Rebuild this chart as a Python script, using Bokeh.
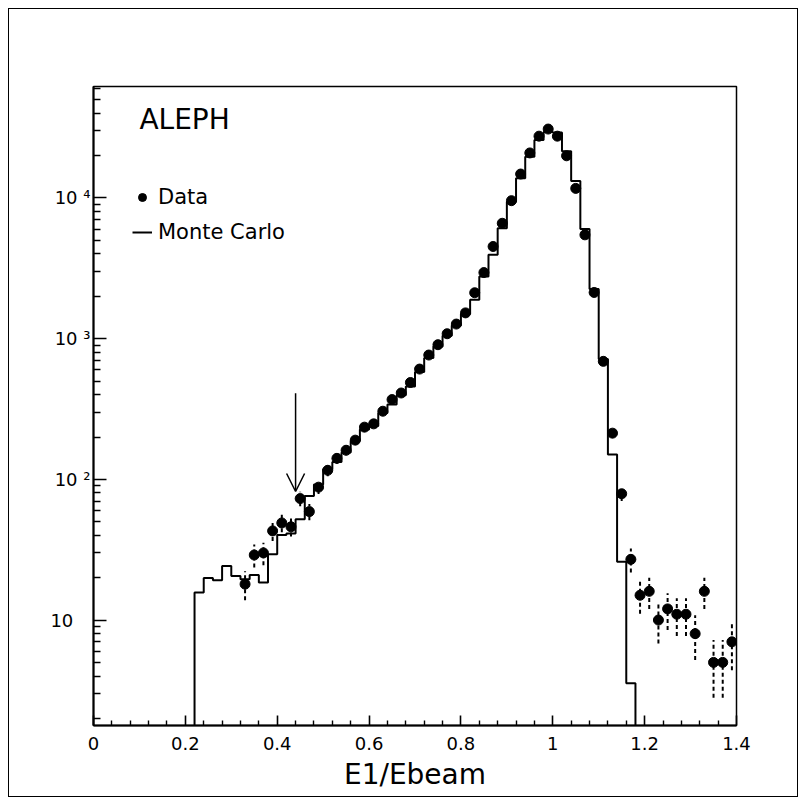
from bokeh.plotting import figure
from bokeh.models import (ColumnDataSource, FixedTicker, Arrow, OpenHead, Label,
                          Legend, LegendItem, Range1d)
from bokeh.embed import file_html
from bokeh.resources import INLINE

# ---------------- data ----------------
data_x = [0.33, 0.35, 0.37, 0.39, 0.41, 0.43, 0.45, 0.47, 0.49, 0.51,
          0.53, 0.55, 0.57, 0.59, 0.61, 0.63, 0.65, 0.67, 0.69, 0.71,
          0.73, 0.75, 0.77, 0.79, 0.81, 0.83, 0.85, 0.87, 0.89, 0.91,
          0.93, 0.95, 0.97, 0.99, 1.01, 1.03, 1.05, 1.07, 1.09, 1.11,
          1.13, 1.15, 1.17, 1.19, 1.21, 1.23, 1.25, 1.27, 1.29, 1.31,
          1.33, 1.35, 1.37, 1.39]
data_y = [18, 29, 30, 43, 49, 46, 73, 59, 88, 116,
          141, 161, 190, 235, 248, 305, 369, 411, 488, 608,
          765, 906, 1084, 1270, 1525, 2120, 2950, 4520, 6610, 9570,
          14800, 20900, 27500, 30900, 27500, 19950, 11700, 5470, 2130, 690,
          213, 79, 27, 15, 16, 10, 12, 11, 11, 8,
          16, 5, 5, 7]
data_err = [4.2, 5.4, 5.5, 6.6, 7.0, 6.8, 8.5, 7.7, 9.4, 10.8,
            11.9, 12.7, 13.8, 15.3, 15.7, 17.5, 19.2, 20.3, 22.1, 24.7,
            27.7, 30.1, 32.9, 35.6, 39.1, 46.0, 54.3, 67.2, 81.3, 97.8,
            121.7, 144.6, 165.8, 175.8, 165.8, 141.2, 108.2, 74.0, 46.2, 26.3,
            14.6, 8.9, 5.2, 3.9, 4.0, 3.2, 3.5, 3.3, 3.3, 2.8,
            4.0, 2.2, 2.2, 2.6]

mc_lo = [0.22, 0.24, 0.26, 0.28, 0.30, 0.32, 0.34, 0.36, 0.38, 0.40,
         0.42, 0.44, 0.46, 0.48, 0.50, 0.52, 0.54, 0.56, 0.58, 0.60,
         0.62, 0.64, 0.66, 0.68, 0.70, 0.72, 0.74, 0.76, 0.78, 0.80,
         0.82, 0.84, 0.86, 0.88, 0.90, 0.92, 0.94, 0.96, 0.98, 1.00,
         1.02, 1.04, 1.06, 1.08, 1.10, 1.12, 1.14, 1.16]
mc_y = [15.7, 19.9, 19.2, 24.2, 20.6, 19.5, 20.9, 18.5, 29.4, 40.3,
        41.2, 52, 76, 92, 118, 133, 155, 187, 226, 239,
        296, 340, 396, 457, 580, 730, 880, 1050, 1240, 1500,
        1893, 2770, 3945, 6100, 9420, 13800, 19600, 25800, 29500, 29200,
        21500, 13200, 6030, 2250, 716, 150, 26, 3.55]
bin_width = 0.02
mc_floor = 0.01

x_ticks = [0, 0.2, 0.4, 0.6, 0.8, 1, 1.2, 1.4]
x_tick_labels = ["0", "0.2", "0.4", "0.6", "0.8", "1", "1.2", "1.4"]
x_minor = [0.04, 0.08, 0.12, 0.16, 0.24, 0.28, 0.32, 0.36, 0.44, 0.48, 0.52, 0.56,
           0.64, 0.68, 0.72, 0.76, 0.84, 0.88, 0.92, 0.96, 1.04, 1.08, 1.12, 1.16,
           1.24, 1.28, 1.32, 1.36]
y_ticks = [10, 100, 1000, 10000]
y_tick_labels = ["10\u00a0\u00a0\u00a0", "10 \u00b2", "10 \u00b3", "10 \u2074"]
y_minor = [2, 3, 4, 5, 6, 7, 8, 9, 20, 30, 40, 50, 60, 70, 80, 90,
           200, 300, 400, 500, 600, 700, 800, 900,
           2000, 3000, 4000, 5000, 6000, 7000, 8000, 9000,
           20000, 30000, 40000, 50000, 60000]

arrow_x = 0.44
arrow_top = 410
arrow_tip = 82

FONT = "DejaVu Sans"

# ---------------- step path for MC ----------------
step_x = [mc_lo[0]]
step_y = [mc_floor]
for lo, v in zip(mc_lo, mc_y):
    step_x += [lo, lo + bin_width]
    step_y += [v, v]
step_x.append(mc_lo[-1] + bin_width)
step_y.append(mc_floor)

err_lo = [y - e for y, e in zip(data_y, data_err)]
err_hi = [y + e for y, e in zip(data_y, data_err)]

src = ColumnDataSource(dict(x=data_x, y=data_y, lo=err_lo, hi=err_hi))

p = figure(width=806, height=805, output_backend="svg", toolbar_location=None,
           y_axis_type="log", x_range=Range1d(0, 1.4), y_range=Range1d(1.78, 62000),
           min_border_left=93, min_border_right=70, min_border_top=86,
           min_border_bottom=80)
# transparent surround so the page frame drawn on the host element shows through
p.border_fill_alpha = 0
p.styles = {"outline": "1.5px solid black", "outline-offset": "-9px",
            "background-color": "white"}
p.background_fill_color = "white"
p.outline_line_color = "black"
p.outline_line_width = 1.5
p.xgrid.visible = False
p.ygrid.visible = False

mc_r = p.line(step_x, step_y, line_color="black", line_width=2)
p.segment(x0="x", y0="lo", x1="x", y1="hi", source=src, line_color="black",
          line_width=2, line_dash="4 3")
dat_r = p.scatter(x="x", y="y", source=src, size=10, marker="circle",
                  fill_color="black", line_color="black")

# axes
xa = p.xaxis[0]
xa.ticker = FixedTicker(ticks=x_ticks, minor_ticks=x_minor)
xa.major_label_overrides = dict(zip(x_ticks, x_tick_labels))
xa.axis_label = "E1/Ebeam"
ya = p.yaxis[0]
ya.ticker = FixedTicker(ticks=y_ticks, minor_ticks=y_minor)
ya.major_label_overrides = dict(zip(y_ticks, y_tick_labels))

for ax in (xa, ya):
    ax.axis_line_width = 2
    ax.axis_line_color = "black"
    ax.major_tick_line_color = "black"
    ax.minor_tick_line_color = "black"
    ax.major_tick_line_width = 1.6
    ax.minor_tick_line_width = 1.4
    ax.major_tick_out = 0
    ax.minor_tick_out = 0
    ax.major_label_text_font = FONT
    ax.major_label_text_font_size = "18px"
    ax.major_label_text_color = "black"

xa.major_tick_in = 10
xa.minor_tick_in = 5
xa.major_label_standoff = 11
xa.axis_label_text_font = FONT
xa.axis_label_text_font_size = "28px"
xa.axis_label_text_font_style = "normal"
xa.axis_label_text_color = "black"
xa.axis_label_standoff = 5
ya.major_tick_in = 13
ya.minor_tick_in = 7
ya.major_label_standoff = 3

# arrow
p.add_layout(Arrow(end=OpenHead(size=18, line_width=1.5, line_color="black"),
                   x_start=arrow_x, y_start=arrow_top, x_end=arrow_x, y_end=arrow_tip,
                   line_width=1.5, line_color="black"))

# ALEPH label
p.add_layout(Label(x=0.10, y=36100, text="ALEPH", text_font=FONT,
                   text_font_size="28px", text_baseline="middle", text_align="left",
                   text_color="black"))

legend = Legend(items=[LegendItem(label="Data", renderers=[dat_r]),
                       LegendItem(label="Monte Carlo", renderers=[mc_r])],
                location=(39, 481), orientation="vertical",
                label_text_font=FONT, label_text_font_size="21px",
                label_text_color="black", glyph_width=20, glyph_height=24,
                label_height=24, spacing=11, padding=0, margin=0,
                label_standoff=6, border_line_color=None,
                background_fill_alpha=0)
p.add_layout(legend)

open("out.html", "w").write(file_html(p, INLINE))
